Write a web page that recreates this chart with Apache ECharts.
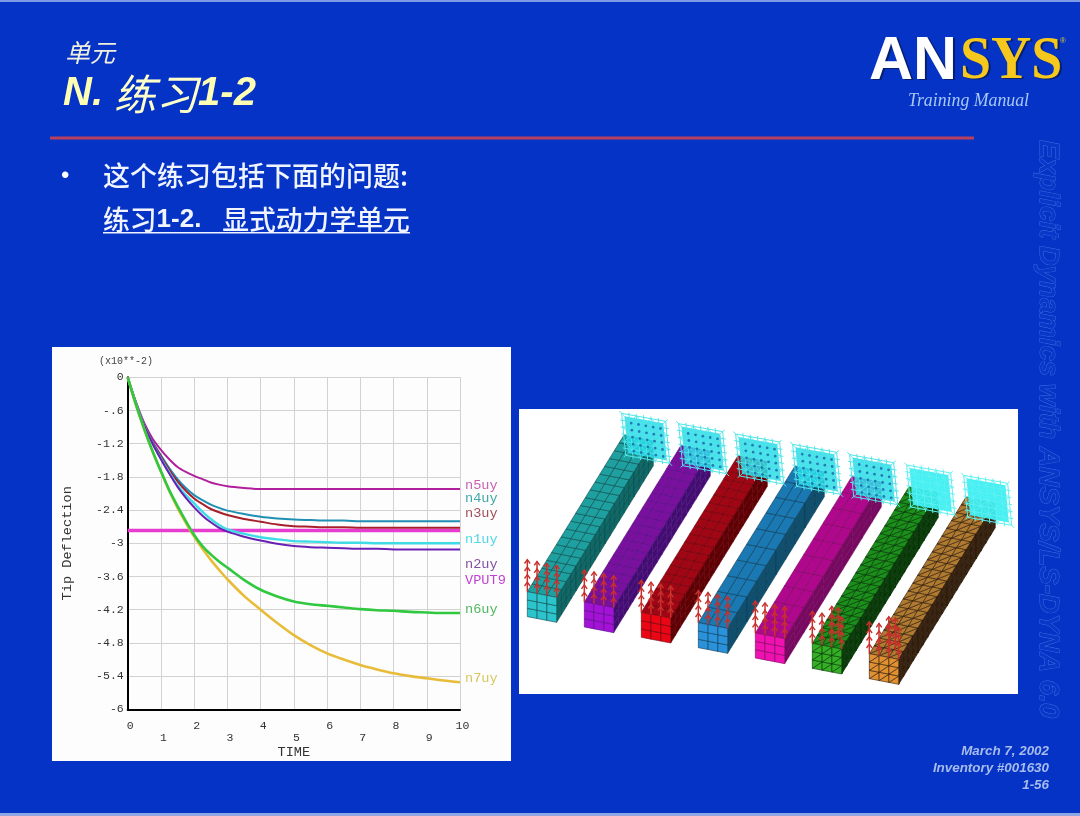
<!DOCTYPE html>
<html>
<head>
<meta charset="utf-8">
<style>
html,body{margin:0;padding:0;background:#0433c6;}
#main{width:1080px;height:816px;}
#main canvas{filter:blur(0.6px);}
</style>
<script src="https://cdn.jsdelivr.net/npm/echarts@6/dist/echarts.min.js"></script>
</head>
<body>
<div id="main"></div>
<script>
// ---- chart data (units of x10**-2) ----
const times = [0, 0.25, 0.5, 0.75, 1, 1.25, 1.5, 1.75, 2, 2.25, 2.5, 2.75, 3, 3.5, 4, 4.5, 5, 5.5, 6, 6.5, 7, 7.5, 8, 8.5, 9, 9.5, 10];
const n1uy = [0, -0.47, -0.88, -1.20, -1.47, -1.72, -1.95, -2.13, -2.28, -2.43, -2.56, -2.67, -2.75, -2.83, -2.89, -2.93, -2.96, -2.97, -2.98, -2.99, -2.99, -3.00, -3.00, -3.00, -3.00, -3.00, -3.00];
const n2uy = [0, -0.47, -0.88, -1.20, -1.48, -1.74, -1.98, -2.18, -2.35, -2.50, -2.62, -2.72, -2.79, -2.88, -2.95, -3.01, -3.05, -3.07, -3.08, -3.09, -3.10, -3.10, -3.11, -3.11, -3.11, -3.11, -3.11];
const n3uy = [0, -0.47, -0.87, -1.18, -1.43, -1.67, -1.88, -2.05, -2.19, -2.29, -2.38, -2.44, -2.49, -2.56, -2.61, -2.66, -2.69, -2.70, -2.71, -2.71, -2.72, -2.72, -2.72, -2.72, -2.72, -2.72, -2.72];
const n4uy = [0, -0.47, -0.87, -1.17, -1.41, -1.64, -1.84, -2.00, -2.13, -2.22, -2.30, -2.36, -2.41, -2.47, -2.52, -2.55, -2.57, -2.58, -2.59, -2.59, -2.60, -2.60, -2.60, -2.60, -2.60, -2.60, -2.60];
const n5uy = [0, -0.45, -0.83, -1.11, -1.31, -1.48, -1.62, -1.71, -1.78, -1.84, -1.90, -1.94, -1.97, -2.00, -2.02, -2.02, -2.02, -2.02, -2.02, -2.02, -2.02, -2.02, -2.02, -2.02, -2.02, -2.02, -2.02];
const n6uy = [0, -0.50, -0.94, -1.34, -1.70, -2.04, -2.33, -2.60, -2.85, -3.05, -3.20, -3.33, -3.44, -3.66, -3.84, -3.96, -4.05, -4.10, -4.13, -4.16, -4.19, -4.21, -4.22, -4.24, -4.25, -4.26, -4.26];
const n7uy = [0, -0.50, -0.94, -1.34, -1.70, -2.05, -2.36, -2.63, -2.88, -3.10, -3.30, -3.48, -3.65, -3.95, -4.20, -4.44, -4.66, -4.84, -4.99, -5.10, -5.20, -5.28, -5.35, -5.40, -5.44, -5.48, -5.51];
const vput9Level = -2.77;
const vput9 = times.map(() => vput9Level);

const seriesNames = ['VPUT9', 'n5uy', 'n4uy', 'n3uy', 'n1uy', 'n2uy', 'n7uy', 'n6uy'];
const seriesValues = [vput9, n5uy, n4uy, n3uy, n1uy, n2uy, n7uy, n6uy];
const seriesColors = ['#e63cd0', '#b0209c', '#1f8fb4', '#a81f2c', '#3fdce6', '#6a1fb4', '#e8bc38', '#30c83e'];
const seriesWidths = [3.4, 2, 2, 2, 2.4, 2, 2.6, 2.6];

// ---- helpers for the non-chart slide furniture ----
const FONT_CJK = '"Noto Sans CJK SC",sans-serif';
const FONT_MONO = '"Liberation Mono","DejaVu Sans Mono",monospace';
let order = 0;
const els = [];
function add(el, z) { el.z = z; el.zlevel = 0; el.z2 = order++; el.silent = true; els.push(el); return el; }
function rect(x, y, w, h, fill, z) { add({ type: 'rect', shape: { x, y, width: w, height: h }, style: { fill } }, z); }
function text(s, x, y, font, fill, opts, z) {
  opts = opts || {};
  const el = { type: 'text', x, y, style: Object.assign({ text: s, font, fill, textAlign: 'left', textVerticalAlign: 'middle' }, opts.style || {}) };
  if (opts.scaleX) el.scaleX = opts.scaleX;
  add(el, z === undefined ? 5 : z);
}

// slide edges
rect(0, 0, 1080, 2, '#7d9ae6', -5);
rect(0, 813, 1080, 3, '#8fa6e4', -5);

// panels
rect(52, 347, 459, 414, '#fdfdfd', -5);
rect(519, 409, 499, 285, '#ffffff', -5);

// heading
text('单元', 65, 52, 'italic 25px ' + FONT_CJK, '#f0f0e0');
add({ type: 'text', x: 63, y: 94, style: {
  text: '{a|N. }{b|练习}{a|1-2}', fill: '#ffffb4', textVerticalAlign: 'middle', textAlign: 'left',
  rich: {
    a: { font: 'italic bold 40px "Liberation Sans",sans-serif', fill: '#ffffb4' },
    b: { font: 'italic 42px ' + FONT_CJK, fill: '#ffffc8' }
  } } }, 5);
rect(50, 136.5, 924, 3, '#b8405f', 1);

// bullets
text('•', 61, 176, '24px "Liberation Sans",sans-serif', '#ffffff');
text('这个练习包括下面的问题:', 103, 176, '500 27px ' + FONT_CJK, '#f0f4ff');
add({ type: 'text', x: 103, y: 220, style: {
  text: '{c|练习}{d|1-2.}{e|   }{c|显式动力学单元}', fill: '#f0f4ff', textVerticalAlign: 'middle', textAlign: 'left',
  rich: {
    c: { font: '500 26.8px ' + FONT_CJK, fill: '#f0f4ff' },
    d: { font: 'bold 26px "Liberation Sans",sans-serif', fill: '#f0f4ff' },
    e: { font: '25px "Liberation Sans",sans-serif', fill: '#f0f4ff' }
  } } }, 5);
rect(103, 232, 307, 1.6, '#f0f4ff', 1);

// logo
text('AN', 871, 63, 'bold 61px "Liberation Sans",sans-serif', '#06206e', {}, 4);
text('AN', 869, 62, 'bold 61px "Liberation Sans",sans-serif', '#ffffff', {}, 5);
text('SYS', 962, 63, 'bold 62px "Liberation Serif",serif', '#06206e', { scaleX: 0.9 }, 4);
text('SYS', 960, 62, 'bold 62px "Liberation Serif",serif', '#f6c81e', { scaleX: 0.9 }, 5);
text('®', 1060, 41, '8px "Liberation Sans",sans-serif', '#d8c040');
text('Training Manual', 908, 101, 'italic 17.8px "Liberation Serif",serif', '#a8c8f6');

// watermark
add({ type: 'text', x: 1048, y: 140, rotation: -Math.PI / 2, style: {
  text: 'Explicit Dynamics with ANSYS/LS-DYNA 6.0', font: 'italic bold 27.6px "Liberation Sans",sans-serif',
  fill: '#0838c8', stroke: '#3f6fe0', lineWidth: 0.9, textAlign: 'left', textVerticalAlign: 'middle' } }, 3);

// footer
const footerLines = ['March 7, 2002', 'Inventory #001630', '1-56'];
footerLines.forEach((s, i) => text(s, 1049, 751 + i * 17, 'italic bold 13.4px "Liberation Sans",sans-serif', '#a8bcec', { style: { textAlign: 'right' } }));

// plot annotations
text('(x10**-2)', 99, 361, '10px ' + FONT_MONO, '#444');
const endLabels = ['n5uy', 'n4uy', 'n3uy', 'n1uy', 'n2uy', 'VPUT9', 'n6uy', 'n7uy'];
const endLabelColors = ['#c860b4', '#3fa8a8', '#a05058', '#4fd8e4', '#8050a0', '#c040d4', '#50b860', '#d8c860'];
const endLabelRows = [485, 498, 513, 539, 564, 580, 609, 678];
endLabels.forEach((s, i) => text(s, 465, endLabelRows[i], '13.6px ' + FONT_MONO, endLabelColors[i]));

// ---- the mesh picture on the right ----
const beams = [
  { top: '#1fa0a0', front: '#2cc4cc', side: '#0d6a68', line: '#0b4a4a', rows: 20, tri: false },
  { top: '#7a109e', front: '#a312d6', side: '#3f0f6e', line: '#560c84', rows: 20, tri: false },
  { top: '#a00614', front: '#ea0614', side: '#5c0004', line: '#680008', rows: 20, tri: false },
  { top: '#1a78b2', front: '#2a92da', side: '#10506f', line: '#0c3a58', rows: 10, tri: false },
  { top: '#b0088c', front: '#f012b0', side: '#760a60', line: '#7a0660', rows: 10, tri: false },
  { top: '#1a901a', front: '#34b024', side: '#0a3f0a', line: '#053005', rows: 20, tri: true },
  { top: '#b07a30', front: '#e09030', side: '#3a2412', line: '#2c1a08', rows: 20, tri: true }
];
const Z = (x, y) => [515 + x / 3, 405 + y / 3];
const step = [171, 31], widthV = [88, 17], depthV = [290, -470], heightV = [0, -75], origin = [37, 635];
function pt(i, u, v, w) {
  return Z(origin[0] + step[0] * i + u * widthV[0] + v * depthV[0] + w * heightV[0],
           origin[1] + step[1] * i + u * widthV[1] + v * depthV[1] + w * heightV[1]);
}
function face(fn, nA, nB, fill, line, tri) {
  for (let a = 0; a < nA; a++) for (let b = 0; b < nB; b++) {
    const p = [fn(a / nA, b / nB), fn((a + 1) / nA, b / nB), fn((a + 1) / nA, (b + 1) / nB), fn(a / nA, (b + 1) / nB)];
    const sets = tri ? [[p[0], p[1], p[2]], [p[0], p[2], p[3]]] : [p];
    sets.forEach(pts => add({ type: 'polygon', shape: { points: pts }, style: { fill, stroke: line, lineWidth: 0.6 } }, 1));
  }
}
function poly(points, stroke, lw, z) { add({ type: 'polyline', shape: { points }, style: { stroke, lineWidth: lw, fill: null } }, z); }
beams.forEach((b, i) => {
  face((a, c) => pt(i, a, c, 1), 3, b.rows, b.top, b.line, b.tri);
  face((a, c) => pt(i, 1, a, c), b.rows, 3, b.side, b.line, b.tri);
  face((a, c) => pt(i, a, 0, c), 3, 3, b.front, b.line, b.tri);
});
beams.forEach((b, i) => {
  // pressure arrows standing on the front edge
  const extra = b.tri ? [[0.5, 0.05], [0.72, 0.05]] : [];
  [[0, 0], [0.33, 0], [0.66, 0], [1, 0]].concat(extra).forEach(q => {
    const base = pt(i, q[0], q[1], 1), tip = [base[0], base[1] - 32];
    poly([base, tip], '#c8302c', 1.5, 2);
    for (let k = 0; k < 4; k++) {
      const y = tip[1] + k * 7.5;
      poly([[tip[0] - 2.8, y + 3.8], [tip[0], y], [tip[0] + 2.8, y + 3.8]], '#c8302c', 1.4, 2);
    }
  });
  // constraint symbols on the far end
  const cx = 392 + step[0] * i, cy = 100 + step[1] * i, n = 7;
  const node = (r, c) => Z(cx + (c - 3) * 22 + (r - 3) * 2, cy + (r - 3) * 21 + (c - 3) * 4);
  const light = i >= 5;
  add({ type: 'polygon', shape: { points: [node(0.35, 0.35), node(0.35, n - 1.35), node(n - 1.35, n - 1.35), node(n - 1.35, 0.35)] },
        style: { fill: light ? '#3ceef2' : '#28dce8', opacity: light ? 0.95 : 0.85 } }, 2);
  const lace = light ? '#5cf2f2' : '#4fe6ea';
  for (let r = 0; r < n; r++) for (let c = 0; c < n; c++) {
    const p = node(r, c);
    if (c < n - 1) poly([p, node(r, c + 1)], lace, 1, 3);
    if (r < n - 1) poly([p, node(r + 1, c)], lace, 1, 3);
    if (r < n - 1 && c < n - 1) poly((r + c) % 2 ? [node(r, c + 1), node(r + 1, c)] : [p, node(r + 1, c + 1)], lace, 0.8, 3);
    if (r === 0 || c === 0 || r === n - 1 || c === n - 1) {
      const o = node(r + (r === 0 ? -0.3 : r === n - 1 ? 0.3 : 0), c + (c === 0 ? -0.3 : c === n - 1 ? 0.3 : 0));
      poly([p, o], lace, 1, 3);
    } else if (!light) {
      add({ type: 'circle', shape: { cx: p[0] + 1.5, cy: p[1] + 1.5, r: 1.4 }, style: { fill: '#1a6cae', opacity: 0.85 } }, 3);
    }
  }
});

// ---- chart ----
const labelColor = '#333';
const chart = echarts.init(document.getElementById('main'), null, { width: 1080, height: 816 });
chart.setOption({
  animation: false,
  backgroundColor: '#0433c6',
  grid: { left: 127.7, right: 620, top: 377.3, bottom: 106.7, containLabel: false },
  xAxis: {
    type: 'value', min: 0, max: 10, interval: 1,
    name: 'TIME', nameLocation: 'middle', nameGap: 36,
    nameTextStyle: { fontFamily: FONT_MONO, fontSize: 13.6, color: labelColor },
    axisLine: { onZero: false, lineStyle: { color: '#000', width: 2 } },
    axisTick: { show: false },
    splitLine: { show: true, lineStyle: { color: '#d2d2d2', width: 1 } },
    axisLabel: {
      margin: 11, verticalAlign: 'top', hideOverlap: false,
      formatter: v => (v % 2 ? '{o|' + v + '}' : '{e|' + v + '}'),
      rich: {
        o: { fontFamily: FONT_MONO, fontSize: 11.5, color: labelColor, padding: [12, 0, 0, 5] },
        e: { fontFamily: FONT_MONO, fontSize: 11.5, color: labelColor, padding: [0, 0, 0, 5] }
      }
    }
  },
  yAxis: {
    type: 'value', min: -6, max: 0, interval: 0.6,
    name: 'Tip Deflection', nameLocation: 'middle', nameGap: 53, nameRotate: 90,
    nameTextStyle: { fontFamily: FONT_MONO, fontSize: 13.6, color: labelColor },
    axisLine: { onZero: false, lineStyle: { color: '#000', width: 2 } },
    axisTick: { show: false },
    splitLine: { show: true, lineStyle: { color: '#d2d2d2', width: 1 } },
    axisLabel: {
      margin: 4, fontFamily: FONT_MONO, fontSize: 11.5, color: labelColor,
      formatter: v => (v === 0 ? '0' : String(+v.toFixed(1)).replace('-0.', '-.'))
    }
  },
  series: seriesNames.map((name, i) => ({
    name, type: 'line', showSymbol: false, smooth: 0.3,
    data: times.map((t, k) => [t, seriesValues[i][k]]),
    lineStyle: { color: seriesColors[i], width: seriesWidths[i] },
    itemStyle: { color: seriesColors[i] },
    silent: true, clip: true, z: 3 + i
  })),
  graphic: { elements: els }
});
</script>
</body>
</html>
